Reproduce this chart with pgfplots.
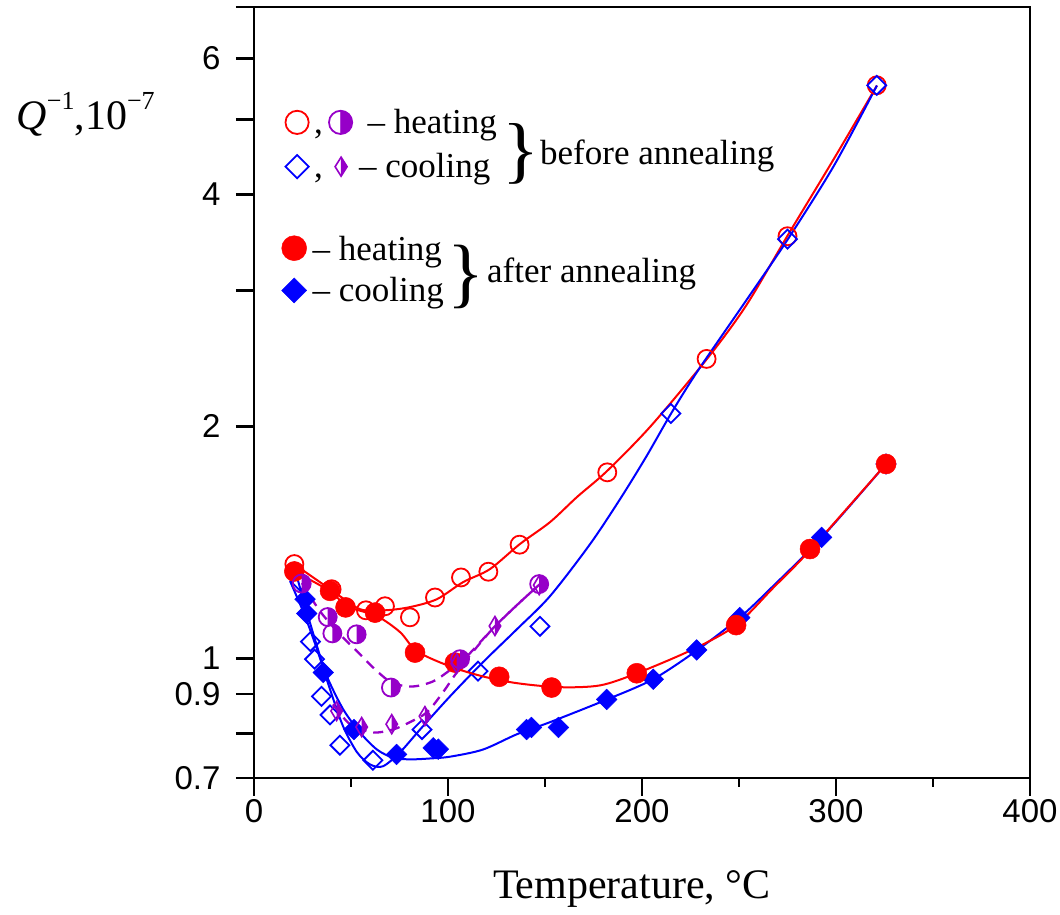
\documentclass[border=0pt]{standalone}
\usepackage{fontspec}
\setmainfont{Liberation Serif}
\newfontfamily\arialfont{Liberation Sans}
\usepackage{graphicx}
\usepackage{pgfplots}
\pgfplotsset{compat=1.18}

\definecolor{pcol}{RGB}{150,0,200}

\pgfdeclareplotmark{halfcircle}{%
  \pgfpathmoveto{\pgfqpoint{0pt}{\pgfplotmarksize}}%
  \pgfpatharc{90}{-90}{\pgfplotmarksize}%
  \pgfpathclose
  \pgfusepathqfill
  \pgfpathcircle{\pgfpointorigin}{\pgfplotmarksize}%
  \pgfusepathqstroke
}
\pgfdeclareplotmark{halfdiamond}{%
  \pgfpathmoveto{\pgfqpoint{0pt}{\pgfplotmarksize}}%
  \pgfpathlineto{\pgfqpoint{.6\pgfplotmarksize}{0pt}}%
  \pgfpathlineto{\pgfqpoint{0pt}{-\pgfplotmarksize}}%
  \pgfpathclose
  \pgfusepathqfill
  \pgfpathmoveto{\pgfqpoint{0pt}{\pgfplotmarksize}}%
  \pgfpathlineto{\pgfqpoint{.6\pgfplotmarksize}{0pt}}%
  \pgfpathlineto{\pgfqpoint{0pt}{-\pgfplotmarksize}}%
  \pgfpathlineto{\pgfqpoint{-.6\pgfplotmarksize}{0pt}}%
  \pgfpathclose
  \pgfusepathqstroke
}

\newcommand{\legfont}{\fontsize{35}{35}\selectfont}

\begin{document}
\begin{tikzpicture}
% ---------------- axis 1: before annealing -----------------
\begin{axis}[
  width=776pt, height=771pt, scale only axis,
  xmin=0, xmax=400, ymin=0.7, ymax=7, ymode=log,
  clip=false,
  axis line style={line width=2.7pt},
  tick style={black, line width=2.5pt},
  tick align=outside, tick pos=left,
  major tick length=18pt, minor tick length=9pt,
  xtick={0,100,200,300,400}, xticklabels={0,100,200,300,400},
  minor xtick={50,150,250,350},
  ytick={0.7,0.8,0.9,1,2,3,4,5,6,7},
  yticklabels={0.7,,0.9,1,2,,4,,6,},
  minor ytick={},
  ticklabel style={font=\arialfont\fontsize{33}{33}\selectfont},
  yticklabel style={xshift=-12pt},
  xlabel={Temperature, °C},
  ylabel={{\itshape Q}\raisebox{20pt}{\fontsize{26}{26}\selectfont \char"2212 1},10\raisebox{20pt}{\fontsize{26}{26}\selectfont \char"2212 7}},
  every axis x label/.style={at={(axis description cs:0.487,0)}, anchor=base, yshift=-120pt, font=\fontsize{42}{42}\selectfont},
  every axis y label/.style={at={(axis description cs:0,1)}, anchor=base west, xshift=-241pt, yshift=-123pt, font=\fontsize{42}{42}\selectfont},
  legend style={draw=none, fill=none, at={(axis description cs:0,1)}, anchor=north west,
    xshift=30.6pt, yshift=-102.1pt, inner sep=0pt, outer sep=0pt, row sep=18.5pt, column sep=0pt,
    nodes={inner sep=0pt, outer sep=0pt}},
  legend cell align=left,
]
\coordinate (O) at (rel axis cs:0,0);

% red curve, before annealing, heating
\addplot[red, no markers, smooth, tension=0.5, line width=2pt, forget plot] coordinates {
 (20.6,1.326) (40.7,1.223) (54.6,1.159) (67.5,1.155) (80.4,1.166) (94.3,1.194)
 (107.7,1.256) (121.6,1.306) (137.1,1.408) (152.6,1.503) (166.5,1.620) (182.0,1.751)
 (204.6,2.003) (233.5,2.447) (253.6,2.868) (275.0,3.535) (299.0,4.451) (321.1,5.536)};
% blue curve, before annealing, cooling
\addplot[blue, no markers, smooth, tension=0.5, line width=2pt, forget plot] coordinates {
 (18.6,1.260) (26.3,1.135) (33.0,1.019) (39.2,0.912) (45.9,0.817) (53.1,0.756)
 (59.8,0.729) (66.5,0.725) (75.3,0.756) (85.6,0.809) (101.0,0.893) (118.0,0.989)
 (135.6,1.092) (152.6,1.205) (173.2,1.407) (188.7,1.610) (202.1,1.826) (214.9,2.077)
 (228.4,2.354) (253.6,2.911) (275.0,3.493) (299.0,4.36) (321.1,5.536)};

% open circles (before, heating)
\addplot[red, only marks, mark=o, mark size=9pt, line width=1.8pt, forget plot] coordinates {
 (20.8,1.326) (40.0,1.230) (57.7,1.155) (67.5,1.169) (80.4,1.131) (93.3,1.200)
 (106.7,1.274) (120.8,1.296) (136.9,1.405) (182.1,1.744) (233.3,2.447) (275.0,3.53) (321.0,5.54)};
% open diamonds (before, cooling)
\addplot[blue, only marks, mark=square, mark size=6.7pt, mark options={rotate=45}, line width=1.8pt, forget plot] coordinates {
 (23.7,1.26) (29.1,1.052) (31.2,0.998) (34.8,0.893) (39.2,0.845) (44.3,0.772)
 (61.3,0.738) (86.6,0.809) (115.5,0.963) (147.4,1.101) (214.9,2.079) (275.0,3.50) (321.0,5.54)};

\addlegendimage{legend image code/.code={
  \draw[red, line width=1.8pt] (0pt,0pt) circle[radius=11.6pt];
  \node[anchor=base, inner sep=0pt, font=\legfont] at (21.5pt,-11pt) {,};
  \fill[pcol] (43.5pt,11.6pt) arc[start angle=90, end angle=-90, radius=11.6pt] -- cycle;
  \draw[pcol, line width=1.8pt] (43.5pt,0pt) circle[radius=11.6pt];
  \node[anchor=base west, inner sep=0pt, font=\legfont] at (70.5pt,-11pt) {– heating};
}}
\addlegendentry{}
\addlegendimage{legend image code/.code={
  \draw[blue, line width=1.8pt] (0pt,11.6pt) -- (11.6pt,0pt) -- (0pt,-11.6pt) -- (-11.6pt,0pt) -- cycle;
  \node[anchor=base, inner sep=0pt, font=\legfont] at (21.5pt,-11pt) {,};
  \fill[pcol] (44pt,9.5pt) -- (50pt,0pt) -- (44pt,-9.5pt) -- cycle;
  \draw[pcol, line width=1.6pt] (44pt,9.5pt) -- (50pt,0pt) -- (44pt,-9.5pt) -- (38pt,0pt) -- cycle;
  \node[anchor=base west, inner sep=0pt, font=\legfont] at (62pt,-11pt) {– cooling};
}}
\addlegendentry{}
\end{axis}

% ---------------- axis 2: after annealing + purple -----------------
\begin{axis}[
  width=776pt, height=771pt, scale only axis,
  xmin=0, xmax=400, ymin=0.7, ymax=7, ymode=log,
  clip=false, hide axis,
  legend style={draw=none, fill=none, at={(axis description cs:0,1)}, anchor=north west,
    xshift=27.5pt, yshift=-228.5pt, inner sep=0pt, outer sep=0pt, row sep=15.5pt, column sep=0pt,
    nodes={inner sep=0pt, outer sep=0pt}},
  legend cell align=left,
]
% blue curve after annealing (cooling)
\addplot[blue, no markers, smooth, tension=0.5, line width=2pt, forget plot] coordinates {
 (22.2,1.275) (27.3,1.148) (32.5,1.037) (37.6,0.948) (45.9,0.860) (54.6,0.802)
 (63.4,0.762) (71.6,0.744) (80.4,0.740) (90.7,0.742) (101.0,0.746) (118.0,0.762)
 (135.6,0.798) (152.6,0.827) (182.0,0.885) (205.7,0.940) (228.4,1.025) (250.5,1.131)
 (266.5,1.234) (292.8,1.437) (325.8,1.788)};
% red curve after annealing (heating)
\addplot[red, no markers, smooth, tension=0.5, line width=2pt, forget plot] coordinates {
 (18.6,1.306) (39.2,1.223) (47.9,1.169) (63.4,1.135) (75.3,1.082) (84.0,1.022)
 (101.0,0.977) (118.0,0.948) (135.6,0.929) (157.7,0.918) (178.4,0.923) (197.4,0.957)
 (226.3,1.028) (248.5,1.105) (267.5,1.234) (286.6,1.382) (325.8,1.788)};
% purple dashed curves (before annealing)
\addplot[pcol, no markers, smooth, tension=0.5, line width=2.3pt, dash pattern=on 10pt off 7pt, forget plot] coordinates {
 (24.7,1.253) (34.0,1.152) (44.3,1.075) (53.1,1.022) (63.4,0.963) (71.6,0.929)
 (82.0,0.920) (92.3,0.934) (101.0,0.966) (109.8,1.007) (124.2,1.101) (137.1,1.183) (147.4,1.249)};
\addplot[pcol, no markers, smooth, tension=0.5, line width=2.3pt, dash pattern=on 10pt off 7pt, forget plot] coordinates {
 (40.7,0.872) (49.5,0.822) (61.3,0.802) (71.6,0.809) (80.4,0.827) (89.2,0.852)
 (97.4,0.904) (104.6,0.960) (113.9,1.028) (124.2,1.101) (137.1,1.183) (147.4,1.249)};

% filled diamonds (after, cooling)
\addplot[blue, only marks, mark=square*, mark size=7.3pt, mark options={rotate=45, fill=blue, draw=blue, line width=0.5pt}, forget plot] coordinates {
 (26.3,1.194) (27.2,1.144) (35.7,0.959) (51.5,0.809) (73.5,0.751) (92.4,0.766)
 (95.0,0.763) (140.5,0.809) (143.0,0.814) (156.9,0.814) (181.8,0.885) (205.8,0.940)
 (228.2,1.026) (250.4,1.130) (292.6,1.436) (325.8,1.788)};
% filled circles (after, heating)
\addplot[red, only marks, mark=*, mark size=10pt, mark options={fill=red, draw=red, line width=0.5pt}, forget plot] coordinates {
 (20.8,1.297) (39.2,1.224) (47.2,1.165) (62.4,1.147) (83.0,1.018) (103.6,0.988)
 (126.4,0.947) (153.4,0.917) (197.3,0.957) (248.5,1.105) (286.6,1.387) (325.8,1.788)};
% purple half diamonds (before, cooling)
\addplot[pcol, only marks, mark=halfdiamond, mark size=9.5pt, line width=1.6pt, forget plot] coordinates {
 (42.6,0.855) (55.5,0.815) (71.0,0.822) (88.1,0.842) (104.5,0.985) (124.2,1.102) (147.0,1.245)};
% purple half circles (before, heating)
\addplot[pcol, only marks, mark=halfcircle, mark size=9pt, line width=1.8pt, forget plot] coordinates {
 (24.6,1.251) (38.0,1.132) (40.4,1.078) (52.9,1.075) (70.6,0.917) (106.2,0.998) (147.0,1.249)};

\addlegendimage{legend image code/.code={
  \fill[red] (0pt,0pt) circle[radius=12.5pt];
  \node[anchor=base west, inner sep=0pt, font=\legfont] at (18.5pt,-12pt) {– heating};
}}
\addlegendentry{}
\addlegendimage{legend image code/.code={
  \fill[blue] (0pt,12.5pt) -- (12.5pt,0pt) -- (0pt,-12.5pt) -- (-12.5pt,0pt) -- cycle;
  \node[anchor=base west, inner sep=0pt, font=\legfont] at (18.5pt,-11pt) {– cooling};
}}
\addlegendentry{}
\end{axis}

% braces and group labels
\node[anchor=center, inner sep=0pt, font=\legfont] at ([shift={(267pt,624pt)}]O) {\scalebox{2.2}[2.1]{\}}};
\node[anchor=base west, inner sep=0pt, font=\legfont] at ([shift={(286pt,613pt)}]O) {before annealing};
\node[anchor=center, inner sep=0pt, font=\legfont] at ([shift={(212pt,501.5pt)}]O) {\scalebox{2.2}[2.2]{\}}};
\node[anchor=base west, inner sep=0pt, font=\legfont] at ([shift={(233pt,495pt)}]O) {after annealing};

\pgfresetboundingbox
\path[use as bounding box] ([shift={(-254pt,-137pt)}]O) rectangle ([shift={(806pt,778pt)}]O);
\end{tikzpicture}
\end{document}
